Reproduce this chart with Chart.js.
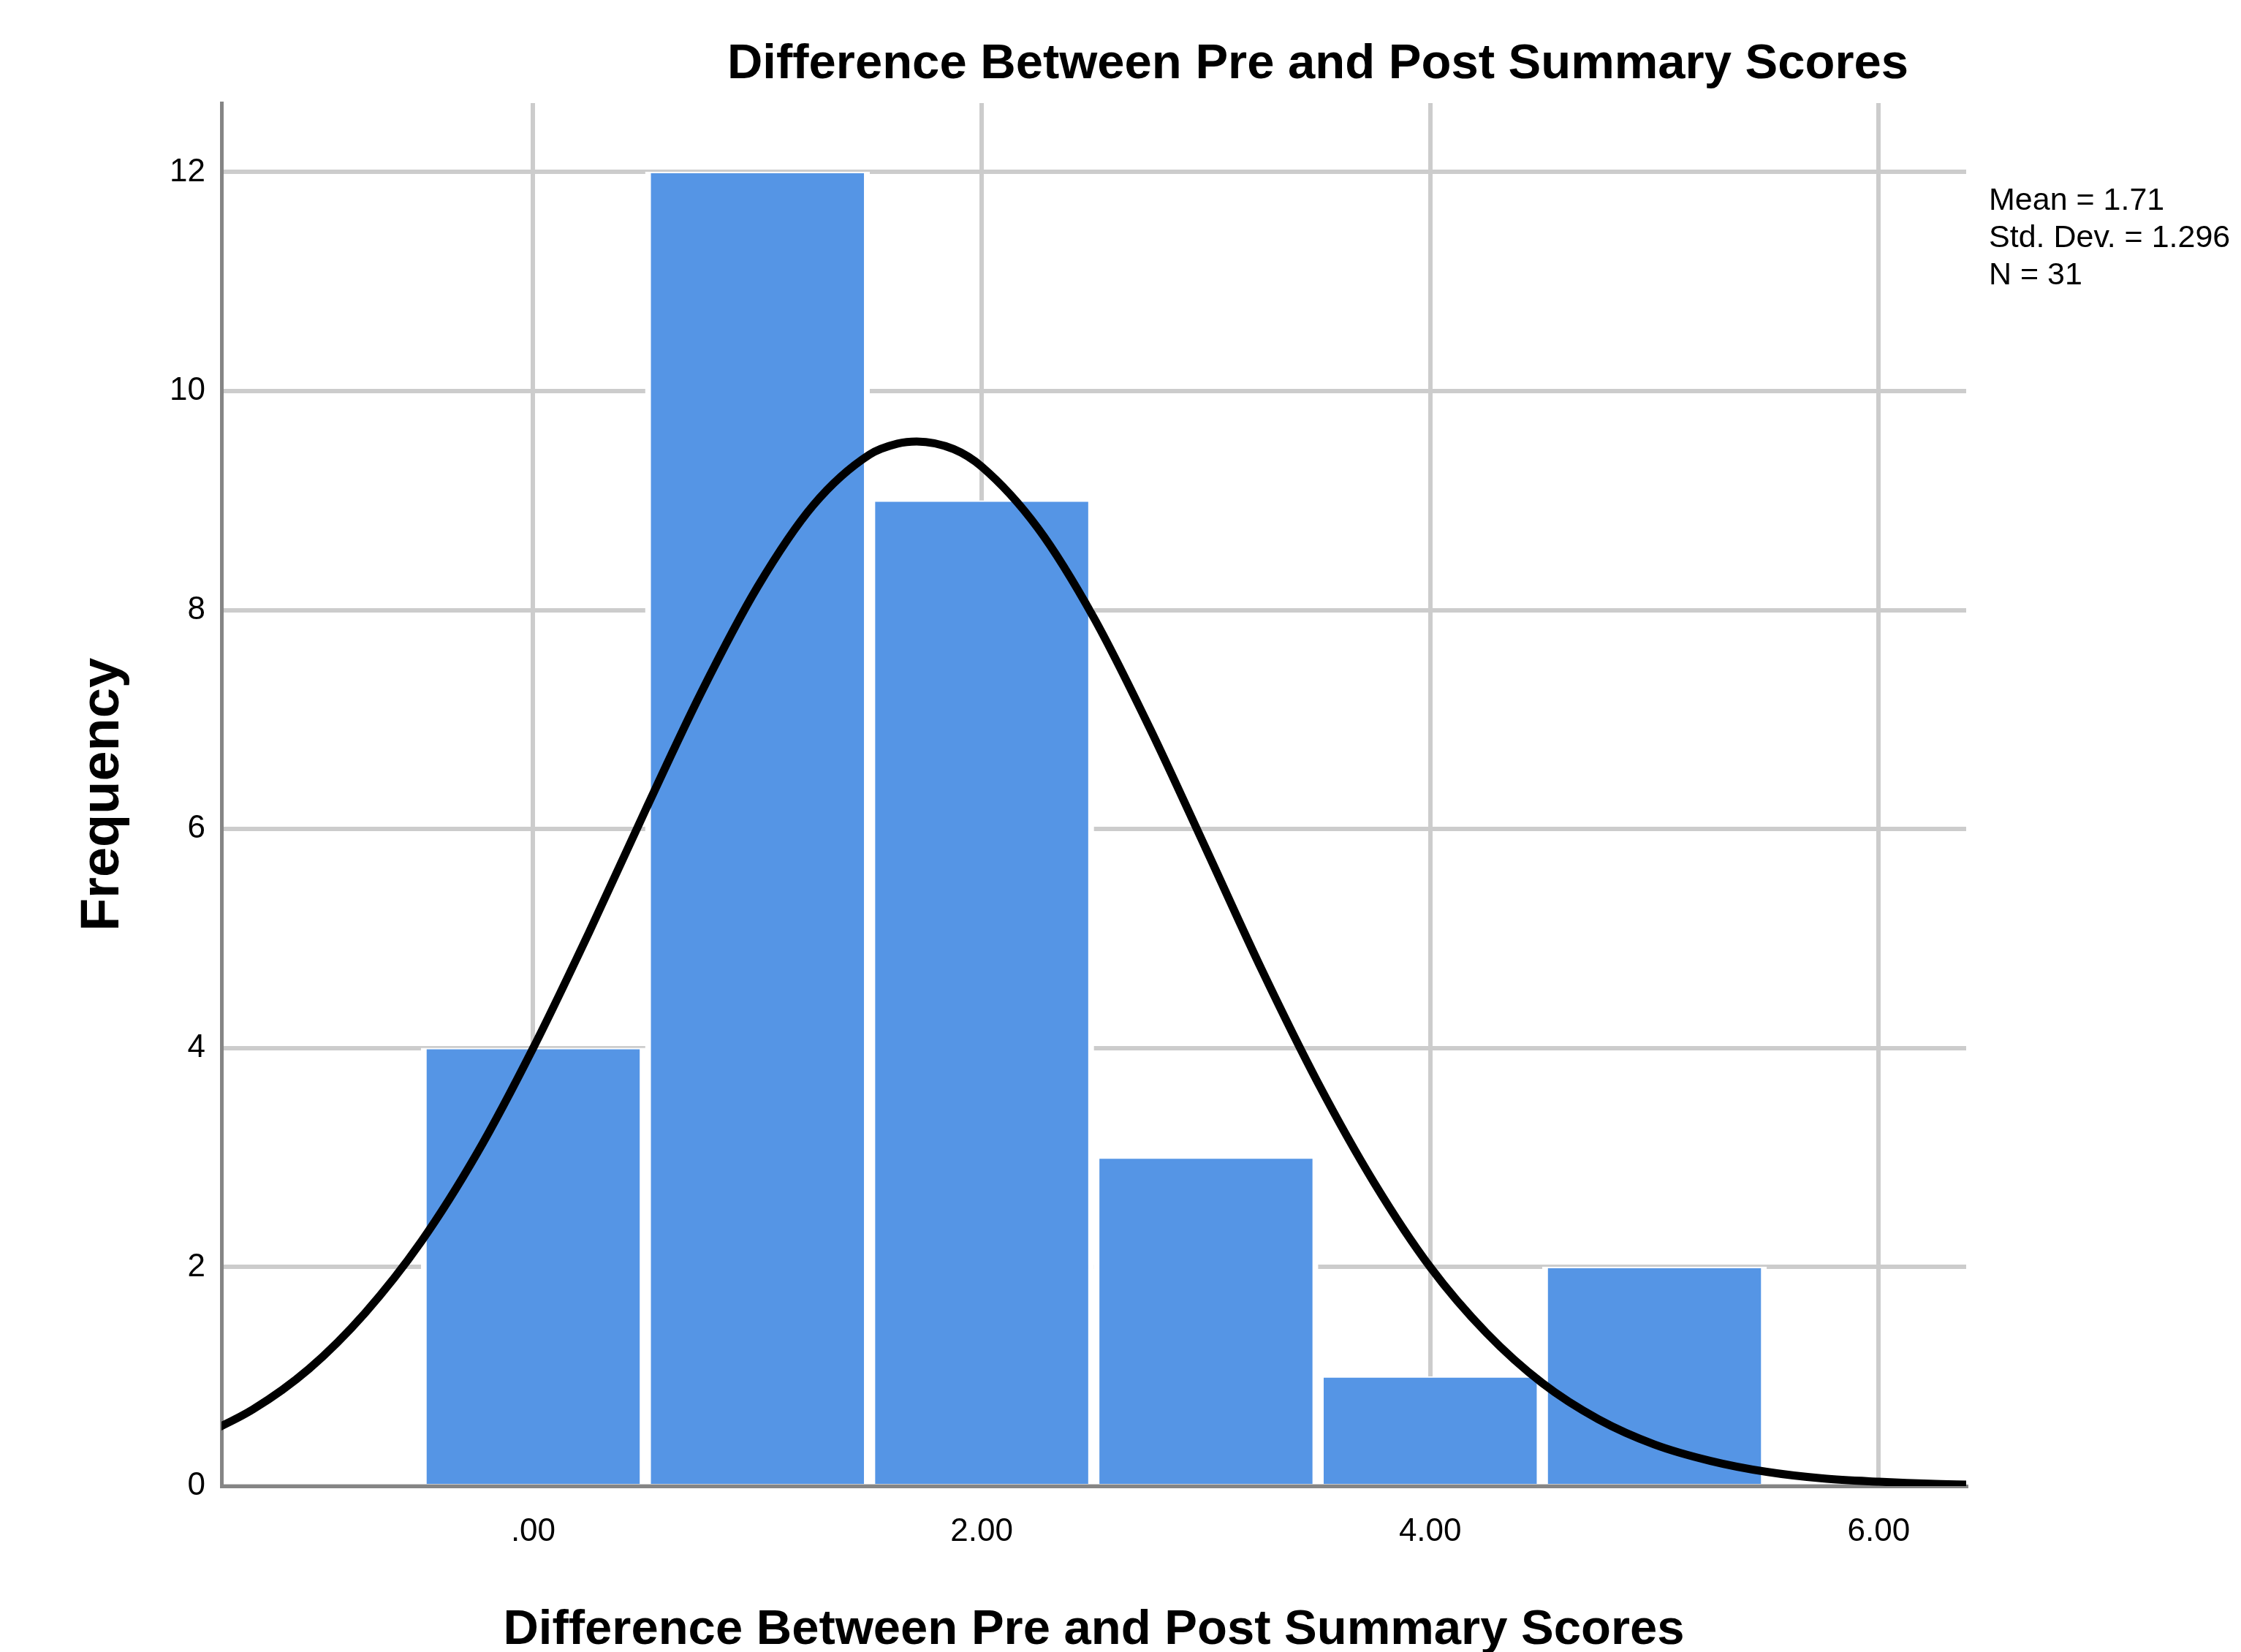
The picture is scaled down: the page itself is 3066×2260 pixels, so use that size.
<!DOCTYPE html>
<html>
<head>
<meta charset="utf-8">
<script src="https://cdn.jsdelivr.net/npm/chart.js@4.4.1/dist/chart.umd.min.js"></script>
<style>
  body { margin: 0; background: #fff; }
  canvas { display: block; }
</style>
</head>
<body>
<canvas id="histChart" width="3066" height="2260"></canvas>
<script>
const binCenters = [0, 1, 2, 3, 4, 5];
const frequencies = [4, 12, 9, 3, 1, 2];

// normal curve
const curveX = [-1.5, -1.25, -1, -0.75, -0.5, -0.25, 0, 0.25, 0.5, 0.75, 1, 1.25, 1.5, 1.625, 1.71, 1.875, 2, 2.25, 2.5, 2.75, 3, 3.25, 3.5, 3.75, 4, 4.25, 4.5, 4.75, 5, 5.25, 5.5, 5.75, 6, 6.25, 6.5];
const curveY = [0.44, 0.70, 1.07, 1.58, 2.23, 3.04, 4.00, 5.06, 6.17, 7.25, 8.21, 8.96, 9.42, 9.52, 9.54, 9.47, 9.31, 8.75, 7.93, 6.92, 5.82, 4.71, 3.68, 2.77, 2.00, 1.40, 0.94, 0.61, 0.38, 0.23, 0.13, 0.07, 0.04, 0.02, 0.01];

const xTickValues = [0, 2, 4, 6];
const xTickLabels = ['.00', '2.00', '4.00', '6.00'];
const yTickValues = [0, 2, 4, 6, 8, 10, 12];

const chartTitle = 'Difference Between Pre and Post Summary Scores';
const statsLines = ['Mean = 1.71', 'Std. Dev. = 1.296', 'N = 31'];

const FONT = '"Liberation Sans", Arial, sans-serif';

const textPlugin = {
    id: 'extraText',
    afterDraw(chart) {
        const ctx = chart.ctx;
        ctx.save();
        ctx.fillStyle = '#000';
        ctx.textBaseline = 'alphabetic';
        ctx.textAlign = 'center';
        ctx.font = 'bold 67px ' + FONT;
        ctx.fillText(chartTitle, 1803, 107);
        ctx.textAlign = 'left';
        ctx.font = '43px ' + FONT;
        statsLines.forEach((line, i) => ctx.fillText(line, 2721, 287 + i * 51));
        ctx.restore();
    }
};

const ctx = document.getElementById('histChart').getContext('2d');
new Chart(ctx, {
    type: 'bar',
    data: {
        datasets: [
            {
                type: 'line',
                data: curveX.map((x, i) => ({ x, y: curveY[i] })),
                borderColor: '#000',
                borderWidth: 11,
                pointRadius: 0,
                cubicInterpolationMode: 'monotone',
                fill: false,
                order: 0
            },
            {
                type: 'bar',
                data: binCenters.map((x, i) => ({ x, y: frequencies[i] })),
                backgroundColor: '#5595e5',
                borderColor: '#ffffff',
                borderWidth: { top: 2, left: 8, right: 8, bottom: 0 },
                barPercentage: 1,
                categoryPercentage: 1,
                order: 1
            }
        ]
    },
    options: {
        responsive: false,
        animation: false,
        layout: { padding: { left: 0, right: 376, top: 141, bottom: 0 } },
        plugins: { legend: { display: false }, tooltip: { enabled: false }, title: { display: false } },
        scales: {
            x: {
                type: 'linear',
                min: -1.39,
                max: 6.39,
                offset: false,
                afterBuildTicks: (axis) => { axis.ticks = xTickValues.map(v => ({ value: v })); },
                afterFit: (axis) => { axis.height = 227; },
                grid: { offset: false, color: '#cccccc', lineWidth: 6, drawTicks: false },
                border: { display: true, color: '#858585', width: 5 },
                ticks: {
                    color: '#000',
                    font: { family: FONT, size: 44 },
                    padding: 36,
                    maxRotation: 0,
                    callback: (v) => xTickLabels[xTickValues.indexOf(v)]
                },
                title: {
                    display: true,
                    text: chartTitle,
                    color: '#000',
                    font: { family: FONT, size: 67, weight: 'bold', lineHeight: 0.8 },
                    padding: { top: 0, bottom: 3 }
                }
            },
            y: {
                min: 0,
                max: 12.63,
                afterBuildTicks: (axis) => { axis.ticks = yTickValues.map(v => ({ value: v })); },
                afterFit: (axis) => { axis.width = 303; },
                grid: { color: '#cccccc', lineWidth: 6, drawTicks: false },
                border: { display: true, color: '#858585', width: 5 },
                ticks: {
                    color: '#000',
                    font: { family: FONT, size: 44 },
                    padding: 22
                },
                title: {
                    display: true,
                    text: 'Frequency',
                    color: '#000',
                    font: { family: FONT, size: 74, weight: 'bold', lineHeight: 1.2 },
                    padding: { top: 97, bottom: 0 }
                }
            }
        }
    },
    plugins: [textPlugin]
});
</script>
</body>
</html>
